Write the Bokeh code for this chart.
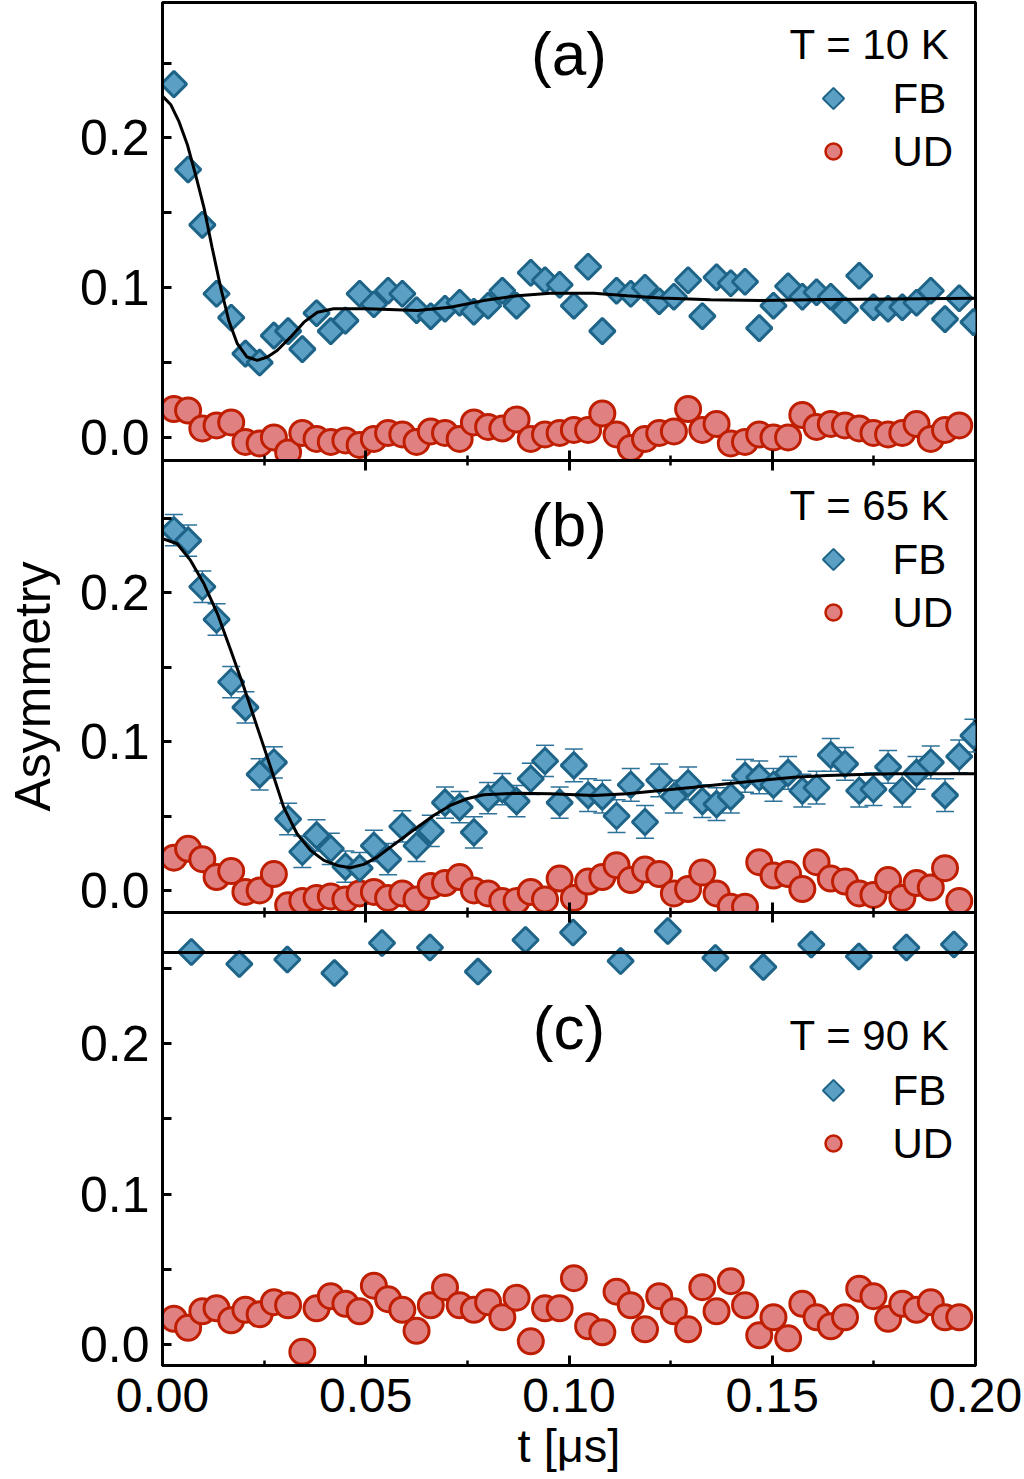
import numpy as np
from bokeh.plotting import figure
from bokeh.models import (Range1d, FixedTicker, PrintfTickFormatter, CustomJSTickFormatter,
                          LinearAxis, Label, Whisker, TeeHead, ColumnDataSource)
from bokeh.layouts import column
from bokeh.embed import file_html
from bokeh.resources import INLINE

# ---------------- data ----------------
T = [0.0028, 0.0063, 0.0098, 0.0133, 0.0169, 0.0204, 0.0239, 0.0274, 0.0309, 0.0344,
     0.0379, 0.0414, 0.0450, 0.0485, 0.0520, 0.0555, 0.0590, 0.0625, 0.0660, 0.0695,
     0.0731, 0.0766, 0.0801, 0.0836, 0.0871, 0.0906, 0.0941, 0.0977, 0.1012, 0.1047,
     0.1082, 0.1117, 0.1152, 0.1187, 0.1222, 0.1258, 0.1293, 0.1328, 0.1363, 0.1398,
     0.1433, 0.1468, 0.1503, 0.1539, 0.1574, 0.1609, 0.1644, 0.1679, 0.1714, 0.1749,
     0.1785, 0.1820, 0.1855, 0.1890, 0.1925, 0.1960, 0.1995]
T_UD = T[:56]

FB_A = [0.236, 0.179, 0.142, 0.096, 0.080, 0.056, 0.050, 0.068, 0.071, 0.059,
        0.083, 0.071, 0.078, 0.096, 0.089, 0.098, 0.096, 0.085, 0.081, 0.086,
        0.090, 0.084, 0.088, 0.098, 0.088, 0.110, 0.105, 0.102, 0.088, 0.114,
        0.071, 0.098, 0.096, 0.100, 0.091, 0.094, 0.105, 0.081, 0.107, 0.103,
        0.104, 0.073, 0.088, 0.101, 0.094, 0.097, 0.094, 0.085, 0.108, 0.087,
        0.086, 0.087, 0.090, 0.098, 0.079, 0.093, 0.077]
UD_A = [0.019, 0.018, 0.006, 0.008, 0.010, -0.003, -0.004, 0.000, -0.010, 0.003,
        -0.001, -0.003, -0.002, -0.005, -0.001, 0.003, 0.002, -0.003, 0.004, 0.003,
        -0.001, 0.010, 0.007, 0.006, 0.012, -0.001, 0.002, 0.003, 0.005, 0.005,
        0.016, 0.002, -0.007, -0.001, 0.003, 0.004, 0.019, 0.005, 0.009, -0.004,
        -0.003, 0.002, 0.000, 0.000, 0.015, 0.007, 0.009, 0.008, 0.006, 0.003,
        0.002, 0.003, 0.009, -0.001, 0.005, 0.008]
FIT_A_T = [0.0, 0.0020, 0.0040, 0.0061, 0.0081, 0.0102, 0.0122, 0.0143, 0.0163, 0.0184,
           0.0208, 0.0233, 0.0258, 0.0282, 0.0315, 0.0348, 0.0381, 0.0421, 0.0504, 0.0627,
           0.0708, 0.0790, 0.0873, 0.0954, 0.1061, 0.1143, 0.1225, 0.1348, 0.1471, 0.1635,
           0.1799, 0.2]
FIT_A_Y = [0.228, 0.2224, 0.2113, 0.1957, 0.1758, 0.1535, 0.1269, 0.1003, 0.0781, 0.0626,
           0.0537, 0.0515, 0.0537, 0.0581, 0.0670, 0.0770, 0.0836, 0.0859, 0.0859, 0.0848,
           0.0870, 0.0914, 0.0947, 0.0963, 0.0963, 0.0947, 0.0932, 0.0919, 0.0914, 0.0921,
           0.0925, 0.0929]

FB_B = [0.242, 0.235, 0.204, 0.182, 0.140, 0.123, 0.078, 0.086, 0.048, 0.026,
        0.037, 0.028, 0.016, 0.015, 0.030, 0.021, 0.043, 0.030, 0.040, 0.059,
        0.056, 0.039, 0.062, 0.068, 0.060, 0.075, 0.087, 0.059, 0.084, 0.064,
        0.063, 0.050, 0.071, 0.046, 0.074, 0.063, 0.072, 0.060, 0.058, 0.063,
        0.077, 0.076, 0.071, 0.079, 0.067, 0.069, 0.091, 0.085, 0.067, 0.068,
        0.083, 0.067, 0.079, 0.086, 0.064, 0.090, 0.104]
ERR_B = [0.0105, 0.0105, 0.0105, 0.0105, 0.0105, 0.0105, 0.0105, 0.0105, 0.0105, 0.0105,
         0.0105, 0.0105, 0.0105, 0.0105, 0.0105, 0.0105, 0.0105, 0.0105, 0.0105, 0.0105,
         0.0105, 0.0105, 0.0105, 0.0105, 0.0105, 0.0105, 0.0105, 0.0105, 0.011, 0.011,
         0.011, 0.011, 0.011, 0.011, 0.011, 0.011, 0.011, 0.011, 0.011, 0.011,
         0.011, 0.011, 0.011, 0.011, 0.011, 0.011, 0.011, 0.011, 0.011, 0.011,
         0.011, 0.011, 0.011, 0.011, 0.011, 0.011, 0.011]
UD_B = [0.022, 0.028, 0.021, 0.009, 0.013, -0.001, 0.000, 0.011, -0.010, -0.007,
        -0.005, -0.004, -0.006, -0.002, -0.001, -0.005, -0.002, -0.006, 0.003, 0.005,
        0.009, 0.000, -0.002, -0.007, -0.007, -0.001, -0.006, 0.008, -0.005, 0.006,
        0.009, 0.017, 0.007, 0.014, 0.011, -0.002, 0.001, 0.012, -0.002, -0.011,
        -0.011, 0.019, 0.010, 0.011, 0.001, 0.019, 0.008, 0.006, -0.002, -0.003,
        0.007, -0.005, 0.005, 0.002, 0.015, -0.007]
FIT_B_T = [0.0, 0.0036, 0.0069, 0.0102, 0.0135, 0.0167, 0.0200, 0.0233, 0.0266, 0.0298,
           0.0331, 0.0364, 0.0397, 0.0430, 0.0462, 0.0495, 0.0528, 0.0561, 0.0594, 0.0627,
           0.0667, 0.0708, 0.0749, 0.0790, 0.0873, 0.0954, 0.1061, 0.1143, 0.1225, 0.1307,
           0.1389, 0.1471, 0.1553, 0.1635, 0.1717, 0.1799, 0.2]
FIT_B_Y = [0.2363, 0.2329, 0.2217, 0.2060, 0.1860, 0.1620, 0.1366, 0.1097, 0.0828, 0.0560,
           0.0381, 0.0269, 0.0202, 0.0168, 0.0153, 0.0175, 0.0224, 0.0291, 0.0358, 0.0425,
           0.0504, 0.0571, 0.0616, 0.0643, 0.0653, 0.0650, 0.0638, 0.0650, 0.0672, 0.0694,
           0.0717, 0.0739, 0.0761, 0.0773, 0.0779, 0.0784, 0.0784]

T_C = [0.0071, 0.0189, 0.0307, 0.0423, 0.0540, 0.0658, 0.0776, 0.0893, 0.1010,
       0.1127, 0.1243, 0.1360, 0.1478, 0.1596, 0.1713, 0.1830, 0.1947]
FB_C = [0.261, 0.253, 0.256, 0.247, 0.267, 0.264, 0.248, 0.269, 0.274,
        0.255, 0.275, 0.257, 0.251, 0.266, 0.258, 0.264, 0.266]
UD_C = [0.017, 0.011, 0.022, 0.024, 0.016, 0.023, 0.020, 0.028, 0.026, -0.005,
        0.024, 0.032, 0.027, 0.022, 0.039, 0.030, 0.023, 0.009, 0.026, 0.038,
        0.026, 0.023, 0.028, 0.018, 0.031, 0.002, 0.024, 0.024, 0.044, 0.012,
        0.008, 0.035, 0.026, 0.010, 0.032, 0.022, 0.010, 0.038, 0.022, 0.042,
        0.026, 0.006, 0.018, 0.004, 0.027, 0.018, 0.012, 0.018, 0.037, 0.032,
        0.017, 0.027, 0.023, 0.028, 0.018, 0.018]
FIT_C_T = [0.0, 0.2]
FIT_C_Y = [0.2607, 0.2607]

PANEL_TAGS = ["(a)", "(b)", "(c)"]
TEMPS = ["T = 10 K", "T = 65 K", "T = 90 K"]
SERIES = ["FB", "UD"]
Y_TITLE = "Asymmetry"
X_TITLE = "t [μs]"
X_TICKS = [0.0, 0.05, 0.10, 0.15, 0.20]
X_MINOR = [0.025, 0.075, 0.125, 0.175]
Y_TICKS = [0.0, 0.1, 0.2]
Y_MINOR = [0.05, 0.15, 0.25]

# ---------------- style / layout ----------------
FONT = "Liberation Sans"
INK = "black"
BLUE_FILL = "#5ba0c4"
BLUE_LINE = "#1e6488"
RED_FILL = "#e08080"
RED_LINE = "#c01e00"
ERR_COLOR = "#2d7299"
W = 1024
LEFT = 162
FRAME_W = 813
RIGHT = W - LEFT - FRAME_W
OVER = 15                      # overlap between stacked canvases
Y_RANGES = [(-0.0154, 0.2905), (-0.0148, 0.2888), (-0.0141, 0.2873)]
FRAME_H = [458, 452, 453]
# text / legend placement, pixels from frame left / frame top (text centres)
TAG_MID = [51, 64, 115]
TITLE_MID = [42, 45, 123]
KEY_ROWS = [(96, 149), (99, 152), (178, 231)]
KEY_X = 671
LABEL_X = 730
TITLE_RIGHT = 787


def xd(px):
    return px * 0.2 / FRAME_W


def yd(i, px):
    lo, hi = Y_RANGES[i]
    return hi - px * (hi - lo) / FRAME_H[i]


def make_fig(i, height, top, bottom):
    p = figure(width=W, height=height, x_range=Range1d(0.0, 0.2), y_range=Range1d(*Y_RANGES[i]),
               output_backend="svg", toolbar_location=None,
               x_axis_location=None, y_axis_location=None,
               min_border_left=LEFT, min_border_right=RIGHT,
               min_border_top=top, min_border_bottom=bottom)
    p.grid.visible = False
    p.outline_line_color = INK
    p.outline_line_width = 3
    p.outline_line_alpha = 1.0
    p.background_fill_color = "white"
    p.border_fill_color = "white"
    ya = LinearAxis(ticker=FixedTicker(ticks=Y_TICKS, minor_ticks=Y_MINOR),
                    formatter=PrintfTickFormatter(format="%.1f"),
                    axis_line_width=3, axis_line_color=INK,
                    major_tick_in=9, major_tick_out=0, minor_tick_in=9, minor_tick_out=0,
                    major_tick_line_width=3, minor_tick_line_width=3,
                    major_label_text_font=FONT, major_label_text_font_size="50px",
                    major_label_text_color=INK, major_label_standoff=13)
    p.add_layout(ya, "left")
    return p, ya


def tick_axis(labels):
    ax = LinearAxis(ticker=FixedTicker(ticks=X_TICKS, minor_ticks=X_MINOR),
                    axis_line_width=3, axis_line_color=INK,
                    major_tick_in=10, major_tick_out=0, minor_tick_in=5, minor_tick_out=0,
                    major_tick_line_width=3, minor_tick_line_width=2.5)
    if labels:
        ax.formatter = PrintfTickFormatter(format="%.2f")
        ax.major_label_text_font = FONT
        ax.major_label_text_font_size = "48px"
        ax.major_label_text_color = INK
        ax.major_label_standoff = 13
        ax.axis_label = X_TITLE
        ax.axis_label_text_font = FONT
        ax.axis_label_text_font_size = "47px"
        ax.axis_label_text_font_style = "normal"
        ax.axis_label_text_color = INK
        ax.axis_label_standoff = 4
    else:
        ax.formatter = CustomJSTickFormatter(code="return ''")
        ax.major_label_text_font_size = "0px"
        ax.major_label_standoff = 0
    return ax


def add_points(p, fb_t, fb_y, ud_t, ud_y, fit_t, fit_y):
    p.scatter(ud_t, ud_y, marker="circle", size=25, fill_color=RED_FILL,
              line_color=RED_LINE, line_width=3)
    p.scatter(fb_t, fb_y, marker="square", angle=np.pi / 4, size=18,
              fill_color=BLUE_FILL, line_color=BLUE_LINE, line_width=3)
    p.line(fit_t, fit_y, line_color=INK, line_width=3)


def add_legend(p, i):
    r_fb, r_ud = KEY_ROWS[i]
    p.scatter([xd(KEY_X)], [yd(i, r_fb)], marker="square", angle=np.pi / 4, size=15,
              fill_color=BLUE_FILL, line_color=BLUE_LINE, line_width=2)
    p.scatter([xd(KEY_X)], [yd(i, r_ud)], marker="circle", size=16,
              fill_color=RED_FILL, line_color=RED_LINE, line_width=2.5)
    for name, row in zip(SERIES, (r_fb, r_ud)):
        p.add_layout(Label(x=xd(LABEL_X), y=yd(i, row), text=name, text_font=FONT,
                           text_font_size="42px", text_color=INK,
                           text_align="left", text_baseline="middle"))
    p.add_layout(Label(x=xd(TITLE_RIGHT), y=yd(i, TITLE_MID[i]), text=TEMPS[i],
                       text_font=FONT, text_font_size="42px", text_color=INK,
                       text_align="right", text_baseline="middle"))
    p.add_layout(Label(x=0.1, y=yd(i, TAG_MID[i]), text=PANEL_TAGS[i], text_font=FONT,
                       text_font_size="62px", text_color=INK,
                       text_align="center", text_baseline="middle"))


# ---- panel (a)
pa, _ = make_fig(0, 2 + FRAME_H[0] + OVER, 2, OVER)
pa.add_layout(tick_axis(False), "below")
add_points(pa, T, FB_A, T_UD, UD_A, FIT_A_T, FIT_A_Y)
add_legend(pa, 0)

# ---- panel (b)
pb, yb = make_fig(1, FRAME_H[1] + OVER, 0, OVER)
pb.styles = {"margin-top": f"-{OVER}px"}
yb.axis_label = Y_TITLE
yb.axis_label_text_font = FONT
yb.axis_label_text_font_size = "50px"
yb.axis_label_text_font_style = "normal"
yb.axis_label_text_color = INK
yb.axis_label_standoff = 16
pb.add_layout(tick_axis(False), "above")
pb.add_layout(tick_axis(False), "below")
fbb = np.array(FB_B)
errb = np.array(ERR_B)
wsrc = ColumnDataSource(dict(t=T, lower=fbb - errb, upper=fbb + errb))
wh = Whisker(base="t", lower="lower", upper="upper", source=wsrc,
             line_color=ERR_COLOR, line_width=1.5, level="underlay",
             upper_head=TeeHead(size=18, line_color=ERR_COLOR, line_width=1.5),
             lower_head=TeeHead(size=18, line_color=ERR_COLOR, line_width=1.5))
pb.add_layout(wh)
add_points(pb, T, FB_B, T_UD, UD_B, FIT_B_T, FIT_B_Y)
add_legend(pb, 1)

# ---- panel (c)
top_c = 2 + FRAME_H[0] + FRAME_H[1]
pc, _ = make_fig(2, 1479 - top_c, 0, 1479 - top_c - FRAME_H[2])
pc.styles = {"margin-top": f"-{OVER}px"}
pc.add_layout(tick_axis(False), "above")
pc.add_layout(tick_axis(True), "below")
add_points(pc, T_C, FB_C, T_UD, UD_C, FIT_C_T, FIT_C_Y)
add_legend(pc, 2)

layout = column(pa, pb, pc, spacing=0)
open("out.html", "w").write(file_html(layout, INLINE))
